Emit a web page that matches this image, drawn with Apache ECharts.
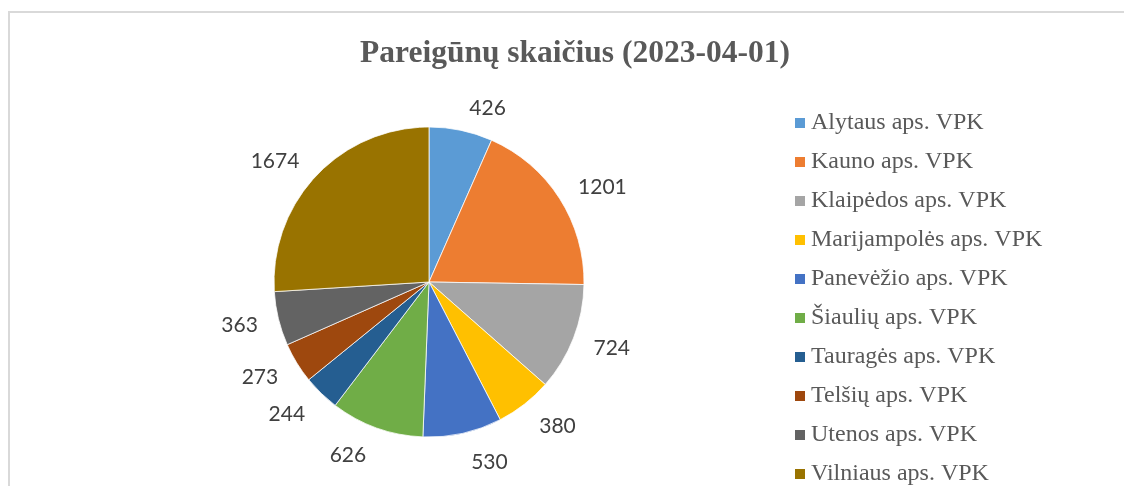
<!DOCTYPE html>
<html>
<head>
<meta charset="utf-8">
<script src="https://cdn.jsdelivr.net/npm/echarts@6/dist/echarts.min.js"></script>
<style>
  html, body { margin: 0; padding: 0; background: #fff; }
  #chart { width: 1124px; height: 486px; }
</style>
</head>
<body>
<div id="chart"></div>
<script>
// duomenys
var regions = ['Alytaus aps. VPK', 'Kauno aps. VPK', 'Klaipėdos aps. VPK', 'Marijampolės aps. VPK',
  'Panevėžio aps. VPK', 'Šiaulių aps. VPK', 'Tauragės aps. VPK', 'Telšių aps. VPK',
  'Utenos aps. VPK', 'Vilniaus aps. VPK'];
var officers = [426, 1201, 724, 380, 530, 626, 244, 273, 363, 1674];
var colors = ['#5B9BD5', '#ED7D31', '#A5A5A5', '#FFC000', '#4472C4', '#70AD47', '#255E91', '#9E480E', '#636363', '#997300'];

var pieCenter = [429, 282];

var pieData = regions.map(function (name, i) {
  return { name: name, value: officers[i], itemStyle: { color: colors[i] } };
});

var myChart = echarts.init(document.getElementById('chart'));

var option = {
  animation: false,
  title: {
    text: 'Pareigūnų skaičius (2023-04-01)',
    left: 355,
    top: 33,
    textStyle: { fontFamily: 'Liberation Serif', fontSize: 31.5, fontWeight: 'bold', color: '#595959' }
  },
  legend: {
    orient: 'vertical',
    left: 788,
    top: 106,
    height: 500,
    icon: 'rect',
    itemWidth: 12,
    itemHeight: 12,
    itemGap: 15,
    data: regions,
    textStyle: { fontFamily: 'Liberation Serif', fontSize: 24, lineHeight: 24, color: '#595959' }
  },
  graphic: [{
    type: 'rect',
    shape: { x: 9, y: 12, width: 1300, height: 600 },
    style: { fill: 'none', stroke: '#d9d9d9', lineWidth: 2 },
    silent: true
  }],
  series: [
    {
      type: 'pie',
      center: pieCenter,
      radius: 155,
      startAngle: 90,
      data: pieData,
      itemStyle: { borderColor: '#ffffff', borderWidth: 0.75 },
      label: {
        show: true,
        position: 'outside',
        formatter: '{c}',
        fontFamily: 'Lato',
        fontSize: 21,
        color: '#404040'
      },
      labelLine: { show: false, length: 16, length2: 0 },
      // Excel etiketes po skrituliu nustumia šiek tiek žemiau
      labelLayout: function (params) {
        var r = params.labelRect;
        var cx = r.x + r.width / 2 - pieCenter[0];
        var cy = r.y + r.height / 2 - pieCenter[1];
        var uy = cy / Math.sqrt(cx * cx + cy * cy);
        var k = uy > 0 ? 0.65 : 0.3;
        return { dy: k * r.height * uy };
      },
      emphasis: { disabled: true }
    }
  ]
};

myChart.setOption(option);
</script>
</body>
</html>
